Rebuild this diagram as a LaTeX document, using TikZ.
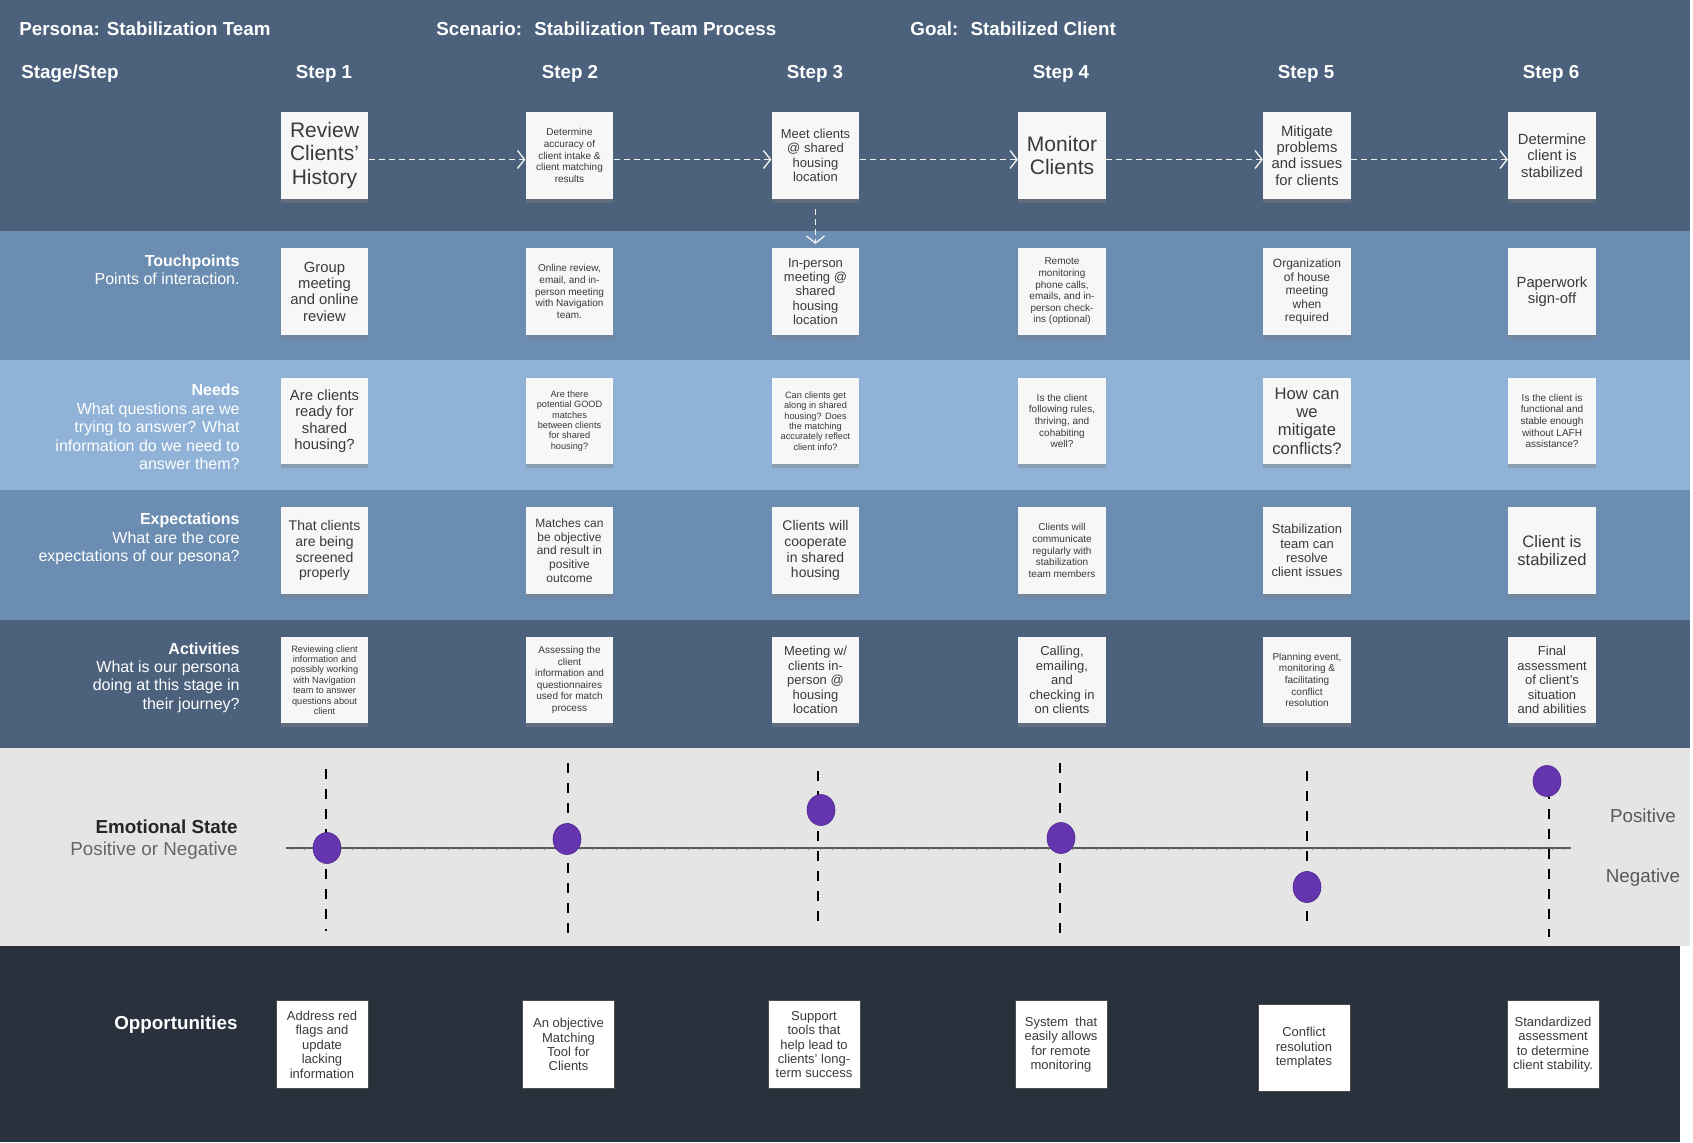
\documentclass[tikz,border=0pt]{standalone}
\usepackage{fontspec}
\setmainfont{Liberation Sans}
\usepackage{tikz}
\usetikzlibrary{arrows.meta,shadows,shapes.geometric}
\definecolor{bandDark}{HTML}{4B617C}
\definecolor{bandMid}{HTML}{6A8DB1}
\definecolor{bandLight}{HTML}{8FB2D6}
\definecolor{bandGray}{HTML}{E5E5E5}
\definecolor{bandNight}{HTML}{29323C}
\definecolor{dotPurple}{HTML}{6535B0}
\definecolor{cardText}{HTML}{3A3A3A}
\definecolor{cardBg}{HTML}{F7F7F7}
\newcommand{\txtA}{\fontsize{10.5pt}{11.9pt}\selectfont}
\newcommand{\txtB}{\fontsize{8.3pt}{9.2pt}\selectfont}
\newcommand{\txtC}{\fontsize{7.4pt}{8.2pt}\selectfont}
\newcommand{\txtD}{\fontsize{7pt}{7.9pt}\selectfont}
\newcommand{\txtE}{\fontsize{6.5pt}{7.2pt}\selectfont}
\newcommand{\txtF}{\fontsize{6pt}{6.8pt}\selectfont}
\newcommand{\txtG}{\fontsize{5pt}{5.8pt}\selectfont}
\newcommand{\txtH}{\fontsize{4.6pt}{5.2pt}\selectfont}

\begin{document}
\begin{tikzpicture}[x=0.5pt,y=-0.5pt, every node/.style={font=\txtC},
      head/.style={text=white,inner sep=0pt,font=\bfseries\fontsize{9.4pt}{11pt}\selectfont},
      lab/.style={text=white,inner sep=0pt,align=right,anchor=east,font=\fontsize{8pt}{9.2pt}\selectfont},
      card/.style={fill=cardBg,text=cardText,minimum width=43.7pt,minimum height=43.2pt,inner sep=1pt,align=center,
        drop shadow={shadow xshift=0pt,shadow yshift=-2pt,opacity=0.4}},
      oppbox/.style={fill=white,draw=black!70,line width=0.5pt,text=cardText,minimum width=46pt,minimum height=43.7pt,inner sep=1pt,align=center},
      flow/.style={white!88!gray,line width=0.7pt,dash pattern=on 3pt off 2pt,-{Straight Barb[length=3.5pt,width=9pt,line width=0.7pt]}},
      guide/.style={black,line width=0.9pt,dash pattern=on 5pt off 5pt},
      dot/.style={ellipse,fill=dotPurple,draw=dotPurple!80!black,line width=0.3pt,minimum width=14pt,minimum height=15.5pt,inner sep=0pt}]
  \useasboundingbox (0,0) rectangle (1693,1142);
  \fill[white] (0,0) rectangle (1693,1142);
  % bands
  \fill[bandDark] (0,0) rectangle (1690,231);
  \fill[bandMid] (0,231) rectangle (1690,360);
  \fill[bandLight] (0,360) rectangle (1690,490);
  \fill[bandMid] (0,490) rectangle (1690,620);
  \fill[bandDark] (0,620) rectangle (1690,748);
  \fill[bandGray] (0,748) rectangle (1690,946);
  \fill[bandNight] (0,946) rectangle (1680,1142);

  % header
  \node[head,anchor=west] (persona) at (19,29) {Persona: Stabilization Team};
  \node[head,anchor=west] (scenario) at (436,29) {Scenario:~ Stabilization Team Process};
  \node[head,anchor=west] (goal) at (910,29) {Goal:~ Stabilized Client};
  \node[head,anchor=west] (stage) at (21,74) {Stage/Step};
  \node[head] (h1) at (324,74) {Step 1};
  \node[head] (h2) at (570,74) {Step 2};
  \node[head] (h3) at (815,74) {Step 3};
  \node[head] (h4) at (1061,74) {Step 4};
  \node[head] (h5) at (1306,74) {Step 5};
  \node[head] (h6) at (1551,74) {Step 6};

  % steps
  \node[card,font=\txtA] (st1) at (324.5,155.5) {Review\\Clients'\\History};
  \node[card,font=\txtG] (st2) at (569.5,155.5) {Determine\\accuracy of\\client intake \&\\client matching\\results};
  \node[card,font=\txtE] (st3) at (815.5,155.5) {Meet clients\\@ shared\\housing\\location};
  \node[card,font=\txtA] (st4) at (1062,155.5) {Monitor\\Clients};
  \node[card,font=\txtC] (st5) at (1307,155.5) {Mitigate\\problems\\and issues\\for clients};
  \node[card,font=\txtC] (st6) at (1552,155.5) {Determine\\client is\\stabilized};
  \draw[flow] ([yshift=-2pt]st1.east) -- ([yshift=-2pt]st2.west);
  \draw[flow] ([yshift=-2pt]st2.east) -- ([yshift=-2pt]st3.west);
  \draw[flow] ([yshift=-2pt]st3.east) -- ([yshift=-2pt]st4.west);
  \draw[flow] ([yshift=-2pt]st4.east) -- ([yshift=-2pt]st5.west);
  \draw[flow] ([yshift=-2pt]st5.east) -- ([yshift=-2pt]st6.west);

  % touchpoints
  \node[lab] (tpL) at (240,270) {\textbf{Touchpoints}\\Points of interaction.};
  \node[card,font=\txtC] (tp1) at (324.5,291.5) {Group\\meeting\\and online\\review};
  \node[card,font=\txtG] (tp2) at (569.5,291.5) {Online review,\\email, and in-\\person meeting\\with Navigation\\team.};
  \node[card,font=\txtE] (tp3) at (815.5,291.5) {In-person\\meeting @\\shared\\housing\\location};
  \node[card,font=\txtG] (tp4) at (1062,291.5) {Remote\\monitoring\\phone calls,\\emails, and in-\\person check-\\ins (optional)};
  \node[card,font=\txtF] (tp5) at (1307,291.5) {Organization\\of house\\meeting\\when\\required};
  \node[card,font=\txtC] (tp6) at (1552,291.5) {Paperwork\\sign-off};
  \draw[flow,shorten <=5pt,shorten >=2pt] (st3) -- (tp3);

  % needs
  \node[lab] (ndL) at (240,427) {\textbf{Needs}\\What questions are we\\trying to answer? What\\information do we need to\\answer them?};
  \node[card,font=\txtC] (nd1) at (324.5,421) {Are clients\\ready for\\shared\\housing?};
  \node[card,font=\txtH] (nd2) at (569.5,421) {Are there\\potential GOOD\\matches\\between clients\\for shared\\housing?};
  \node[card,font=\txtH] (nd3) at (815.5,421) {Can clients get\\along in shared\\housing? Does\\the matching\\accurately reflect\\client info?};
  \node[card,font=\txtG] (nd4) at (1062,421) {Is the client\\following rules,\\thriving, and\\cohabiting\\well?};
  \node[card,font=\txtB] (nd5) at (1307,421) {How can\\we\\mitigate\\conflicts?};
  \node[card,font=\txtG] (nd6) at (1552,421) {Is the client is\\functional and\\stable enough\\without LAFH\\assistance?};

  % expectations
  \node[lab] (exL) at (240,539) {\textbf{Expectations}\\What are the core\\expectations of our pesona?};
  \node[card,font=\txtD] (ex1) at (324.5,550.6) {That clients\\are being\\screened\\properly};
  \node[card,font=\txtF] (ex2) at (569.5,550.6) {Matches can\\be objective\\and result in\\positive\\outcome};
  \node[card,font=\txtD] (ex3) at (815.5,550.6) {Clients will\\cooperate\\in shared\\housing};
  \node[card,font=\txtG] (ex4) at (1062,550.6) {Clients will\\communicate\\regularly with\\stabilization\\team members};
  \node[card,font=\txtE] (ex5) at (1307,550.6) {Stabilization\\team can\\resolve\\client issues};
  \node[card,font=\txtB] (ex6) at (1552,550.6) {Client is\\stabilized};

  % activities
  \node[lab] (acL) at (240,677.5) {\textbf{Activities}\\What is our persona\\doing at this stage in\\their journey?};
  \node[card,font=\txtH] (ac1) at (324.5,680) {Reviewing client\\information and\\possibly working\\with Navigation\\team to answer\\questions about\\client};
  \node[card,font=\txtG] (ac2) at (569.5,680) {Assessing the\\client\\information and\\questionnaires\\used for match\\process};
  \node[card,font=\txtE] (ac3) at (815.5,680) {Meeting w/\\clients in-\\person @\\housing\\location};
  \node[card,font=\txtE] (ac4) at (1062,680) {Calling,\\emailing,\\and\\checking in\\on clients};
  \node[card,font=\txtG] (ac5) at (1307,680) {Planning event,\\monitoring \&\\facilitating\\conflict\\resolution};
  \node[card,font=\txtE] (ac6) at (1552,680) {Final\\assessment\\of client's\\situation\\and abilities};

  % emotional state
  \node[anchor=east,align=right,inner sep=0pt,text=black!85,font=\fontsize{9.4pt}{11pt}\selectfont] (emL) at (238,840)
    {\textbf{Emotional State}\\\textcolor{black!60}{Positive or Negative}};
  \coordinate (axL) at (286,848);
  \coordinate (axR) at (1571,848);
  \draw[black!65,line width=1pt] (axL) -- (axR);
  \foreach \t in {292,304,...,1566} \draw[black!55,line width=0.25pt] (\t,846.5) -- (\t,849.5);
  \draw[guide] (326,769) -- (326,931);
  \draw[guide] (568,763) -- (568,937);
  \draw[guide] (818,771) -- (818,929);
  \draw[guide] (1060,763) -- (1060,937);
  \draw[guide] (1307,771) -- (1307,929);
  \draw[guide] (1549,769) -- (1549,937);
  \node[dot] (em1) at (327,848) {};
  \node[dot] (em2) at (567,839) {};
  \node[dot] (em3) at (821,810) {};
  \node[dot] (em4) at (1061,838) {};
  \node[dot] (em5) at (1307,887) {};
  \node[dot] (em6) at (1547,781) {};
  \node[text=black!65,font=\fontsize{9.4pt}{11pt}\selectfont] (pos) at (1643,816) {Positive};
  \node[text=black!65,font=\fontsize{9.4pt}{11pt}\selectfont] (neg) at (1643,878) {Negative};

  % opportunities
  \node[head,anchor=east] (opL) at (238,1025) {Opportunities};
  \node[oppbox,font=\txtE] (op1) at (322,1044.6) {Address red\\flags and\\update\\lacking\\information};
  \node[oppbox,font=\txtE] (op2) at (568.5,1044.6) {An objective\\Matching\\Tool for\\Clients};
  \node[oppbox,font=\txtE] (op3) at (814,1044.6) {Support\\tools that\\help lead to\\clients' long-\\term success};
  \node[oppbox,font=\txtE] (op4) at (1061,1044.6) {System~ that\\easily allows\\for remote\\monitoring};
  \node[oppbox,font=\txtE] (op5) at (1304,1048) {Conflict\\resolution\\templates};
  \node[oppbox,font=\txtE] (op6) at (1553,1044.6) {Standardized\\assessment\\to determine\\client stability.};
\end{tikzpicture}
\end{document}
